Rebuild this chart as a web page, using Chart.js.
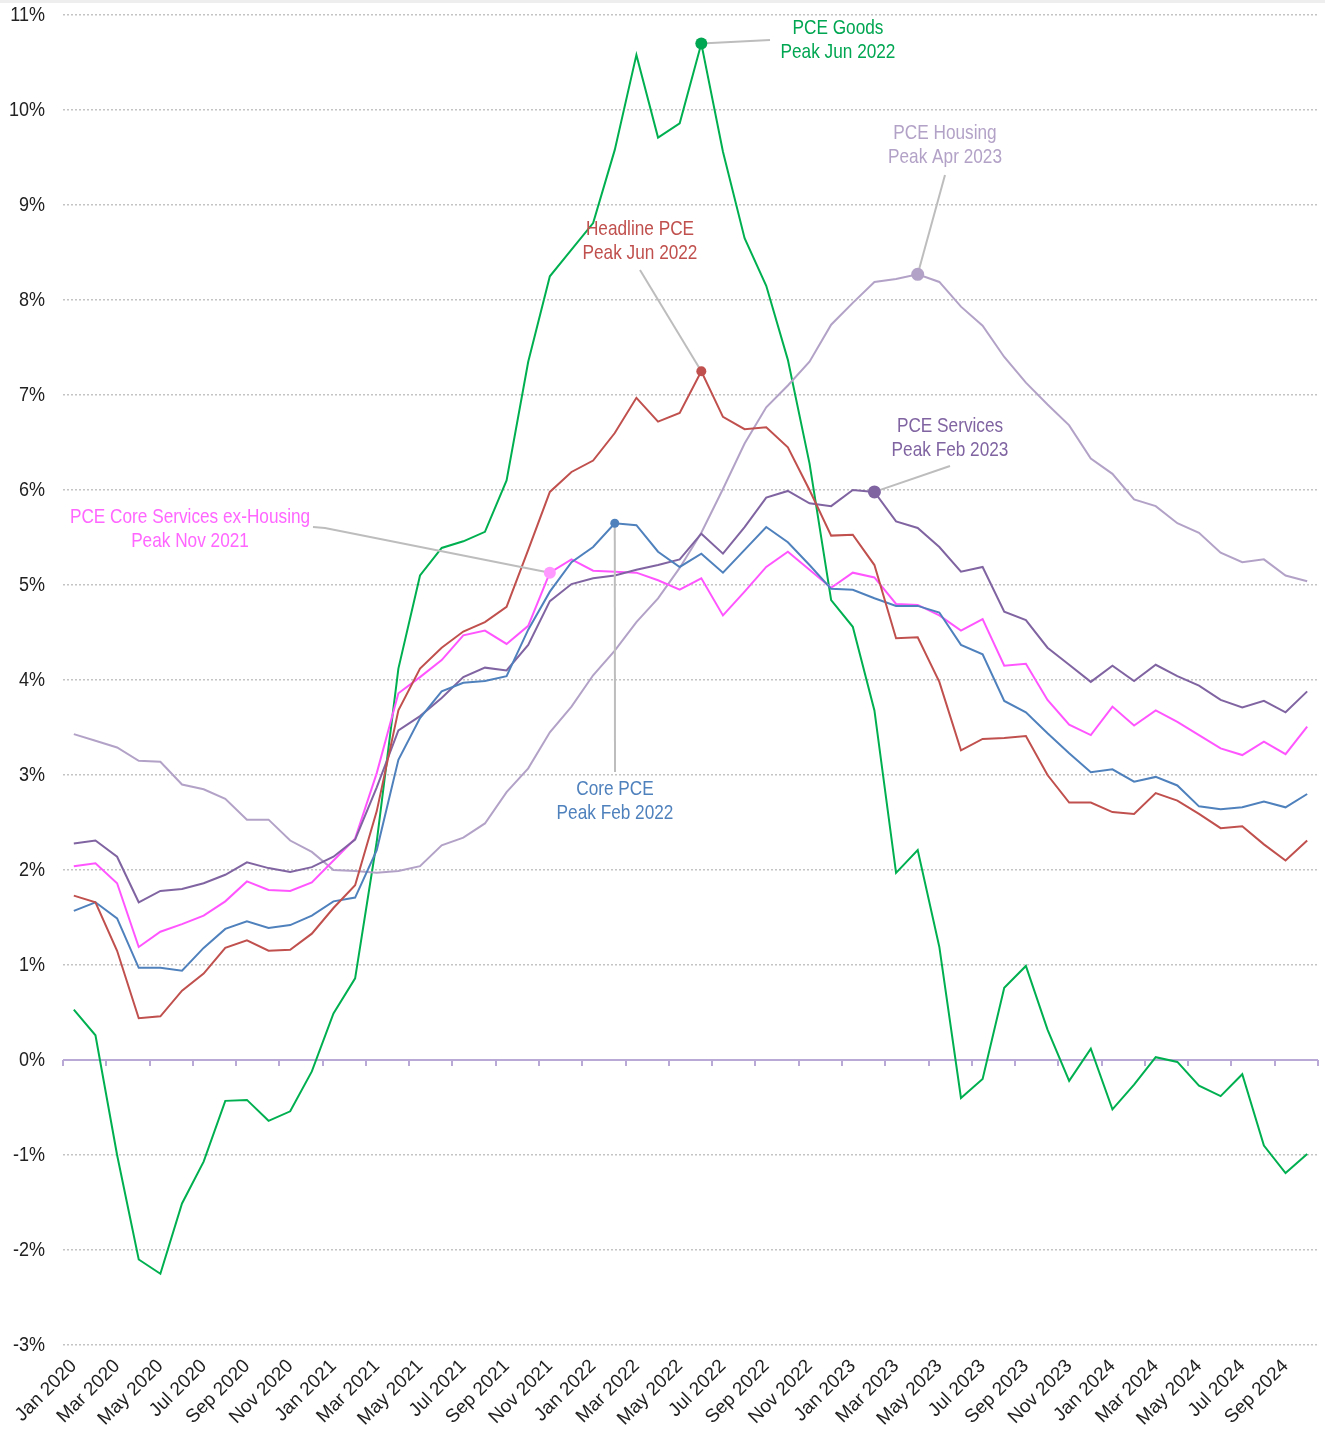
<!DOCTYPE html>
<html>
<head>
<meta charset="utf-8">
<script src="https://cdn.jsdelivr.net/npm/chart.js@4.4.1/dist/chart.umd.min.js"></script>
<style>
  body { margin: 0; background: #fff; }
  #wrap { position: absolute; left: 0; top: 0; width: 1325px; height: 1431px; }
</style>
</head>
<body>
<div id="wrap"><canvas id="pceChart" width="1325" height="1431"></canvas></div>
<script>
// months Jan 2020 .. Oct 2024
var monthNames = ['Jan', 'Feb', 'Mar', 'Apr', 'May', 'Jun', 'Jul', 'Aug', 'Sep', 'Oct', 'Nov', 'Dec'];
var years = [2020, 2021, 2022, 2023, 2024];
var labels = [];
for (var y = 0; y < years.length; y++) {
    for (var m = 0; m < 12; m++) {
        if (years[y] === 2024 && m > 9) break;
        labels.push(monthNames[m] + ' ' + years[y]);
    }
}

// year-over-year % change
var headlinePce = [1.73, 1.66, 1.15, 0.44, 0.46, 0.73, 0.91, 1.18, 1.26, 1.15, 1.16, 1.33,
                   1.60, 1.84, 2.62, 3.68, 4.12, 4.34, 4.51, 4.61, 4.77, 5.37, 5.98, 6.19,
                   6.31, 6.60, 6.97, 6.72, 6.81, 7.25, 6.77, 6.64, 6.66, 6.45, 6.00, 5.52,
                   5.53, 5.21, 4.44, 4.45, 3.98, 3.26, 3.38, 3.39, 3.41, 3.00, 2.71, 2.71,
                   2.61, 2.59, 2.81, 2.73, 2.59, 2.44, 2.46, 2.27, 2.10, 2.31];
var corePce = [1.57, 1.66, 1.49, 0.97, 0.97, 0.94, 1.18, 1.38, 1.46, 1.39, 1.42, 1.52,
               1.67, 1.71, 2.21, 3.16, 3.60, 3.88, 3.97, 3.99, 4.04, 4.53, 4.93, 5.24,
               5.40, 5.65, 5.63, 5.35, 5.19, 5.33, 5.13, 5.37, 5.61, 5.45, 5.21, 4.96,
               4.95, 4.86, 4.78, 4.78, 4.71, 4.37, 4.27, 3.78, 3.66, 3.44, 3.23, 3.03,
               3.06, 2.93, 2.98, 2.89, 2.67, 2.64, 2.66, 2.72, 2.66, 2.80];
var pceServices = [2.28, 2.31, 2.14, 1.66, 1.78, 1.80, 1.86, 1.95, 2.08, 2.02, 1.98, 2.03,
                   2.14, 2.32, 2.87, 3.47, 3.62, 3.81, 4.03, 4.13, 4.10, 4.37, 4.83, 5.01,
                   5.07, 5.10, 5.16, 5.21, 5.27, 5.54, 5.33, 5.61, 5.92, 5.99, 5.86, 5.83,
                   6.00, 5.98, 5.67, 5.60, 5.40, 5.14, 5.19, 4.72, 4.63, 4.34, 4.16, 3.98,
                   4.15, 3.99, 4.16, 4.04, 3.94, 3.79, 3.71, 3.78, 3.66, 3.88];
var coreSvcExHousing = [2.04, 2.07, 1.86, 1.19, 1.35, 1.43, 1.52, 1.67, 1.88, 1.79, 1.78, 1.87,
                        2.10, 2.33, 3.02, 3.86, 4.03, 4.21, 4.47, 4.52, 4.38, 4.57, 5.13, 5.27,
                        5.15, 5.14, 5.13, 5.05, 4.95, 5.07, 4.68, 4.93, 5.19, 5.35, 5.16, 4.97,
                        5.13, 5.08, 4.80, 4.79, 4.68, 4.52, 4.64, 4.15, 4.17, 3.79, 3.53, 3.42,
                        3.72, 3.52, 3.68, 3.56, 3.42, 3.28, 3.21, 3.35, 3.22, 3.51];
var pceHousing = [3.43, 3.36, 3.29, 3.15, 3.14, 2.90, 2.85, 2.75, 2.53, 2.53, 2.31, 2.19,
                  2.00, 1.99, 1.97, 1.99, 2.04, 2.26, 2.34, 2.49, 2.82, 3.07, 3.45, 3.72,
                  4.05, 4.31, 4.61, 4.86, 5.18, 5.55, 6.01, 6.49, 6.87, 7.10, 7.35, 7.74,
                  7.97, 8.19, 8.22, 8.27, 8.19, 7.93, 7.73, 7.40, 7.13, 6.90, 6.68, 6.33,
                  6.17, 5.90, 5.83, 5.65, 5.55, 5.34, 5.24, 5.27, 5.10, 5.04];
var pceGoods = [0.53, 0.26, -1.00, -2.10, -2.25, -1.51, -1.07, -0.43, -0.42, -0.64, -0.54, -0.12,
                0.49, 0.86, 2.30, 4.12, 5.10, 5.39, 5.46, 5.56, 6.10, 7.35, 8.25, 8.53,
                8.81, 9.58, 10.58, 9.71, 9.86, 10.70, 9.56, 8.65, 8.15, 7.37, 6.28, 4.84,
                4.56, 3.68, 1.97, 2.21, 1.19, -0.40, -0.20, 0.76, 0.99, 0.32, -0.22, 0.12,
                -0.52, -0.26, 0.03, -0.02, -0.27, -0.38, -0.15, -0.90, -1.19, -0.99];

var yTicks = [-3, -2, -1, 0, 1, 2, 3, 4, 5, 6, 7, 8, 9, 10, 11];

var sans = "'Liberation Sans', Arial, sans-serif";

// peak call-outs: text position is in canvas pixels, marker comes from the data
var callouts = [
    { ds: 5, peak: 'Jun 2022', text: ['PCE Goods', 'Peak Jun 2022'], color: '#00a651', dot: '#00a651', r: 6,
      tx: 838, ty: 28, path: [[770, 40]] },
    { ds: 4, peak: 'Apr 2023', text: ['PCE Housing', 'Peak Apr 2023'], color: '#b3a2c7', dot: '#b3a2c7', r: 6.5,
      tx: 945, ty: 133, path: [[945, 175]] },
    { ds: 0, peak: 'Jun 2022', text: ['Headline PCE', 'Peak Jun 2022'], color: '#c0504d', dot: '#c0504d', r: 5,
      tx: 640, ty: 229, path: [[640, 270]] },
    { ds: 2, peak: 'Feb 2023', text: ['PCE Services', 'Peak Feb 2023'], color: '#8064a2', dot: '#8064a2', r: 6.5,
      tx: 950, ty: 426, path: [[950, 466]] },
    { ds: 3, peak: 'Nov 2021', text: ['PCE Core Services ex-Housing', 'Peak Nov 2021'], color: '#ff66ff', dot: '#ff99ff', r: 6,
      tx: 190, ty: 517, path: [[313, 527], [325, 528]] },
    { ds: 1, peak: 'Feb 2022', text: ['Core PCE', 'Peak Feb 2022'], color: '#4f81bd', dot: '#4f81bd', r: 4.5,
      tx: 615, ty: 789, path: [[615, 772]] }
];

// condensed look: squeeze a normal sans horizontally
function squeezedText(c, text, x, y, align, sx) {
    c.save();
    c.translate(x, y);
    c.scale(sx, 1);
    c.textAlign = align;
    c.textBaseline = 'middle';
    c.fillText(text, 0, 0);
    c.restore();
}

var extras = {
    id: 'extras',
    beforeDraw: function(chart) {
        var c = chart.ctx;
        c.save();
        c.fillStyle = '#eeeeee';
        c.fillRect(0, 0, chart.width, 3);
        c.restore();
    },
    beforeDatasetsDraw: function(chart) {
        var c = chart.ctx;
        var xs = chart.scales.x, ys = chart.scales.y;
        var y0 = ys.getPixelForValue(0);
        var step = xs.getPixelForValue(1) - xs.getPixelForValue(0);
        c.save();
        // y tick labels
        c.fillStyle = '#222';
        c.font = '20px ' + sans;
        yTicks.forEach(function(v) {
            squeezedText(c, v + '%', 45, ys.getPixelForValue(v), 'right', 0.9);
        });
        // zero line with month ticks
        c.strokeStyle = '#b9a9d6';
        c.lineWidth = 2;
        c.beginPath();
        c.moveTo(chart.chartArea.left, y0);
        c.lineTo(chart.chartArea.right, y0);
        c.stroke();
        for (var i = 0; i <= labels.length; i += 2) {
            var px = xs.getPixelForValue(Math.min(i, labels.length - 1)) + (i === labels.length ? step / 2 : -step / 2);
            px = Math.round(px);
            c.beginPath();
            c.moveTo(px, y0);
            c.lineTo(px, y0 + 6);
            c.stroke();
        }
        c.restore();
    },
    afterDatasetsDraw: function(chart) {
        var c = chart.ctx;
        c.save();
        callouts.forEach(function(a) {
            var pt = chart.getDatasetMeta(a.ds).data[labels.indexOf(a.peak)];
            c.strokeStyle = '#bdbdbd';
            c.lineWidth = 2;
            c.beginPath();
            c.moveTo(a.path[0][0], a.path[0][1]);
            for (var k = 1; k < a.path.length; k++) c.lineTo(a.path[k][0], a.path[k][1]);
            c.lineTo(pt.x, pt.y);
            c.stroke();
            c.fillStyle = a.dot;
            c.beginPath();
            c.arc(pt.x, pt.y, a.r, 0, Math.PI * 2);
            c.fill();
            c.fillStyle = a.color;
            c.font = '21px ' + sans;
            squeezedText(c, a.text[0], a.tx, a.ty, 'center', 0.82);
            squeezedText(c, a.text[1], a.tx, a.ty + 24, 'center', 0.82);
        });
        c.restore();
    }
};

function line(label, data, color) {
    return {
        label: label,
        data: data,
        borderColor: color,
        backgroundColor: color,
        borderWidth: 2,
        pointRadius: 0,
        tension: 0,
        fill: false
    };
}

var ctx = document.getElementById('pceChart');
var pceChart = new Chart(ctx, {
    type: 'line',
    data: {
        labels: labels,
        datasets: [
            line('Headline PCE', headlinePce, '#c0504d'),
            line('Core PCE', corePce, '#4f81bd'),
            line('PCE Services', pceServices, '#8064a2'),
            line('PCE Core Services ex-Housing', coreSvcExHousing, '#ff55ff'),
            line('PCE Housing', pceHousing, '#b3a2c7'),
            line('PCE Goods', pceGoods, '#00b050')
        ]
    },
    options: {
        responsive: false,
        animation: false,
        layout: { padding: { top: 15, right: 7, left: 0, bottom: 0 } },
        plugins: {
            legend: { display: false },
            tooltip: { enabled: false }
        },
        scales: {
            x: {
                type: 'category',
                offset: true,
                grid: { display: false, drawTicks: false },
                border: { display: false },
                ticks: {
                    autoSkip: false,
                    maxRotation: 45,
                    minRotation: 45,
                    padding: 10,
                    color: '#222',
                    font: { family: sans, size: 19 },
                    callback: function(v, i) { return i % 2 === 0 ? labels[i] : ''; }
                },
                afterFit: function(scale) {
                    scale.height = 86;
                    scale.paddingLeft = 0;
                    scale.paddingRight = 0;
                }
            },
            y: {
                min: -3,
                max: 11,
                afterBuildTicks: function(scale) {
                    scale.ticks = yTicks.map(function(v) { return { value: v }; });
                },
                grid: {
                    drawTicks: false,
                    lineWidth: 1.5,
                    color: function(ctx) { return ctx.tick && ctx.tick.value === 0 ? 'rgba(0,0,0,0)' : '#c4c4c4'; }
                },
                border: { display: false, dash: [2, 2] },
                ticks: { display: false },
                afterFit: function(scale) {
                    scale.width = 63;
                    scale.paddingTop = 0;
                    scale.paddingBottom = 0;
                }
            }
        }
    },
    plugins: [extras]
});
</script>
</body>
</html>
